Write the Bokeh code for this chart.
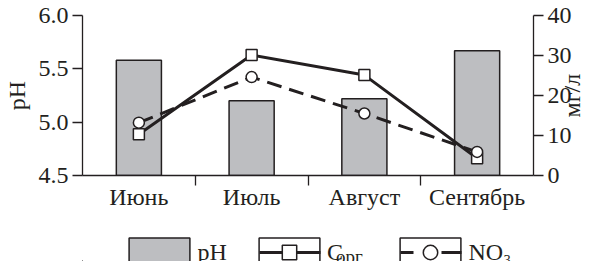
import math
from bokeh.plotting import figure
from bokeh.layouts import column
from bokeh.models import (Range1d, LinearAxis, FixedTicker, Legend, LegendItem,
                          Label, PrintfTickFormatter)
from bokeh.embed import file_html
from bokeh.resources import INLINE

# ---- data ----
categories = ["Июнь", "Июль", "Август", "Сентябрь"]
ph = [5.58, 5.20, 5.22, 5.67]
c_org = [10.3, 30.1, 25.1, 4.3]
no3 = [13.2, 24.6, 15.5, 5.9]
ph_ticks = [4.5, 5.0, 5.5, 6.0]
mg_ticks = [0, 10, 20, 30, 40]

FONT = "Liberation Serif"
INK = "#231f20"
BAR = "#bdbec1"
FS = "24px"

x = [i + 0.5 for i in range(len(categories))]
bounds = list(range(1, len(categories)))

p = figure(width=600, height=225, output_backend="svg", toolbar_location=None,
           x_range=Range1d(0, len(categories)),
           y_range=Range1d(ph_ticks[0], ph_ticks[-1]),
           min_border_left=78, min_border_right=62, min_border_top=15,
           min_border_bottom=50)
p.title.visible = False
p.extra_y_ranges = {"mg": Range1d(mg_ticks[0], mg_ticks[-1])}
p.xgrid.visible = False
p.ygrid.visible = False
p.outline_line_color = None
p.background_fill_color = "white"
p.border_fill_color = "white"


def style_axis(ax):
    ax.axis_line_color = INK
    ax.axis_line_width = 1.3
    ax.major_tick_line_color = INK
    ax.major_tick_line_width = 1.3
    ax.major_tick_out = 10
    ax.major_tick_in = 0
    ax.minor_tick_line_color = None
    ax.major_label_text_font = FONT
    ax.major_label_text_font_size = FS
    ax.major_label_text_color = INK
    ax.axis_label_text_font = FONT
    ax.axis_label_text_font_size = FS
    ax.axis_label_text_font_style = "normal"
    ax.axis_label_text_color = INK


ay = p.yaxis[0]
style_axis(ay)
ay.ticker = FixedTicker(ticks=ph_ticks)
ay.formatter = PrintfTickFormatter(format="%.1f")
ay.major_label_standoff = 4
ay.axis_label = "pH"
ay.axis_label_standoff = 6

ar = LinearAxis(y_range_name="mg", ticker=FixedTicker(ticks=mg_ticks))
style_axis(ar)
ar.major_label_standoff = 4
p.add_layout(ar, "right")

# unit caption of the right axis, read bottom-to-top like in the reference;
# the rotated label starts at its tick, so the tick sits below the middle
mid = (mg_ticks[0] + mg_ticks[-1]) / 2
cap_at = mid - 5.5
au = LinearAxis(y_range_name="mg", ticker=FixedTicker(ticks=[cap_at]),
                major_label_overrides={cap_at: "мг/л"})
style_axis(au)
au.axis_line_color = None
au.major_tick_line_color = None
au.major_tick_out = 0
au.major_label_orientation = math.pi / 2
au.major_label_standoff = -3
p.add_layout(au, "right")

ax = p.xaxis[0]
style_axis(ax)
ax.ticker = FixedTicker(ticks=x, minor_ticks=bounds)
ax.major_label_overrides = {xi: c for xi, c in zip(x, categories)}
ax.major_tick_out = 0
ax.major_tick_line_color = None
ax.minor_tick_line_color = INK
ax.minor_tick_line_width = 1.3
ax.minor_tick_out = 10
ax.minor_tick_in = 0
ax.major_label_standoff = -2

p.vbar(x=x, top=ph, bottom=ph_ticks[0], width=0.4,
       fill_color=BAR, line_color=INK, line_width=1.5)
p.line(x, c_org, y_range_name="mg", line_color=INK, line_width=3)
p.line(x, no3, y_range_name="mg", line_color=INK, line_width=3, line_dash="15 8")
p.scatter(x, c_org, y_range_name="mg", marker="square", size=11,
          fill_color="white", line_color=INK, line_width=1.5)
p.scatter(x, no3, y_range_name="mg", marker="circle", size=11,
          fill_color="white", line_color=INK, line_width=1.5)

# ---- legend strip: own small figure; its key renderers lie outside its view ----
q = figure(width=600, height=36, output_backend="svg", toolbar_location=None,
           x_range=Range1d(10, 14), y_range=Range1d(40, 41),
           x_axis_location=None, y_axis_location=None, min_border=0)
q.title.visible = False
q.grid.visible = False
q.outline_line_color = None
q.background_fill_color = "white"
q.border_fill_color = "white"

k_bar = q.vbar(x=x, top=ph, bottom=ph_ticks[0], width=0.4, fill_color=BAR,
               line_color=INK, line_width=1.5)
k_box = q.vbar(x=x, top=ph, bottom=ph_ticks[0], width=0.4, fill_color="white",
               line_color=INK, line_width=1.5)
k_lc = q.line(x, c_org, line_color=INK, line_width=3, line_dash="0 8 61 7")
k_sc = q.scatter(x, c_org, marker="square", size=11, fill_color="white",
                 line_color=INK, line_width=1.5)
k_ln = q.line(x, no3, line_color=INK, line_width=3, line_dash="0 8 13 28 20 7")
k_sn = q.scatter(x, no3, marker="circle", size=11, fill_color="white",
                 line_color=INK, line_width=1.5)


def add_legend(label, renderers, loc, standoff=0):
    lg = Legend(items=[LegendItem(label=label, renderers=renderers)],
                location=loc, orientation="horizontal",
                glyph_width=76, glyph_height=36, label_standoff=standoff,
                padding=0, margin=0, spacing=0,
                border_line_color=None, background_fill_alpha=0,
                label_text_font=FONT, label_text_font_size=FS,
                label_text_color=INK, label_text_baseline="alphabetic")
    q.add_layout(lg, "center")


LEG_Y = -9.0
add_legend("pH", [k_bar], (39.4, LEG_Y))
add_legend("С", [k_box, k_lc, k_sc], (169.1, LEG_Y), standoff=-6)
add_legend("NO₃", [k_box, k_ln, k_sn], (310.4, LEG_Y))

q.add_layout(Label(x=253.6, y=5.5, x_units="screen", y_units="screen",
                   text="орг", text_font=FONT, text_font_size="19px",
                   text_color=INK, text_baseline="alphabetic"))

open("out.html", "w").write(file_html(column(p, q, spacing=0), INLINE))
